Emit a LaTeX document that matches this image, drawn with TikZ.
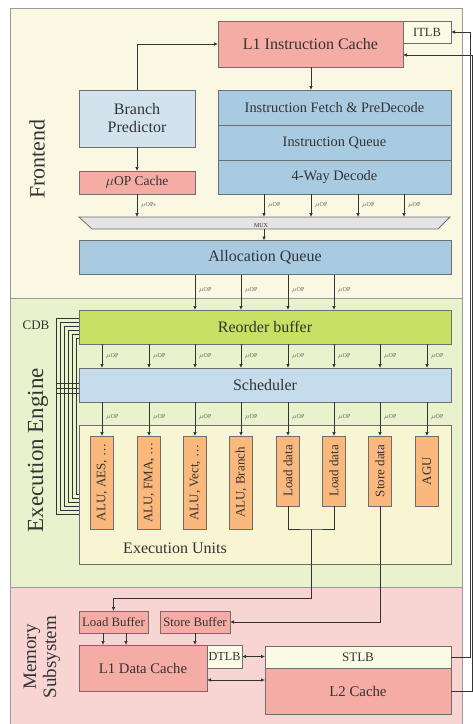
\documentclass[tikz,border=0pt]{standalone}
\usepackage{fontspec}
\usepackage{graphicx}
\setmainfont{Liberation Serif}
\usetikzlibrary{arrows.meta,calc}
\definecolor{frontbg}{HTML}{FAF8E2}
\definecolor{execbg}{HTML}{EAF2CD}
\definecolor{membg}{HTML}{F8D5D3}
\definecolor{eubg}{HTML}{F8F5D2}
\definecolor{salmon}{HTML}{F5ACA4}
\definecolor{bpblue}{HTML}{D3E3EE}
\definecolor{stackblue}{HTML}{A9CBE2}
\definecolor{schblue}{HTML}{C4DCEB}
\definecolor{robgreen}{HTML}{C8E064}
\definecolor{unitorange}{HTML}{FAB87C}
\definecolor{creambox}{HTML}{FCFBE6}
\definecolor{muxgray}{HTML}{E4E4E4}
\definecolor{bordcol}{HTML}{6E6E6E}
\definecolor{txtcol}{HTML}{333333}
\definecolor{sectcol}{HTML}{9A9A9A}
\newcommand{\fs}[1]{\fontsize{#1}{#1}\selectfont}
\begin{document}
\begin{tikzpicture}[x=1pt,y=-1pt,
  box/.style={draw=bordcol, line width=0.8pt, outer sep=0pt, inner sep=0pt, text=txtcol, align=center},
  unitbox/.style={box, fill=unitorange, minimum width=23pt, font=\fs{13}},
  arr/.style={draw=txtcol, line width=0.7pt, -{Latex[length=4pt,width=3.5pt]}},
  darr/.style={draw=txtcol, line width=0.7pt, {Latex[length=4pt,width=3.5pt]}-{Latex[length=4pt,width=3.5pt]}},
  ln/.style={draw=txtcol, line width=0.7pt},
  uoplab/.style={font=\fs{6}, text=txtcol!80, anchor=west, inner sep=0pt},
  sectlab/.style={text=txtcol, rotate=90, align=center},
]
\useasboundingbox (0,0) rectangle (473,724);
% section backgrounds
\fill[frontbg] (10,8) rectangle (462,298);
\fill[execbg] (10,298) rectangle (462,587);
\fill[membg] (10,587) rectangle (462,724);
\draw[sectcol, line width=0.8pt] (10,724) -- (10,8) -- (462,8) -- (462,724);
\draw[sectcol, line width=0.8pt] (10,298) -- (462,298);
\draw[sectcol, line width=0.8pt] (10,587) -- (462,587);

% section labels
\node[sectlab, font=\fs{22}] (lfront) at (37,159) {Frontend};
\node[sectlab, font=\fs{23}] (lexec) at (38,450) {Execution Engine};
\node[sectlab, font=\fs{19}] (lmem) at (42,657) {Memory\\[1pt]Subsystem};
\node[text=txtcol, font=\fs{13}] (lcdb) at (36,325) {CDB};

% ---------- Frontend ----------
\node[box, fill=salmon, minimum width=185pt, minimum height=46pt, font=\fs{16}] (l1i) at (310.5,44) {L1 Instruction Cache};
\node[box, fill=creambox, minimum width=48pt, minimum height=22pt, font=\fs{12.5}] (itlb) at (427,32) {ITLB};
\node[box, fill=bpblue, minimum width=116pt, minimum height=57pt, font=\fs{16}] (bp) at (137,118.5) {Branch\\[2pt]Predictor};
\node[box, fill=salmon, minimum width=116pt, minimum height=23pt, font=\fs{13.5}] (uop) at (137,182.5) {$\mu$OP Cache};
\node[box, fill=stackblue, minimum width=233pt, minimum height=35pt, font=\fs{14.4}] (ifd) at (334.5,107.5) {Instruction Fetch \& PreDecode};
\node[box, fill=stackblue, minimum width=233pt, minimum height=35pt, font=\fs{14.4}] (iq) at (334.5,142.5) {Instruction Queue};
\node[box, fill=stackblue, minimum width=233pt, minimum height=34pt, font=\fs{14.4}] (dec) at (334.5,177) {4-Way Decode};

% MUX
\node[minimum width=371pt, minimum height=12pt, inner sep=0pt, outer sep=0pt] (mux) at (264.5,223) {};
\draw[draw=bordcol, fill=muxgray, line width=0.8pt] (mux.north west) -- (mux.north east) -- ([xshift=-12pt]mux.south east) -- ([xshift=13pt]mux.south west) -- cycle;
\node[font=\fs{6}, text=txtcol, inner sep=0pt] (muxlab) at (261,225.5) {MUX};

\node[box, fill=stackblue, minimum width=372pt, minimum height=34pt, font=\fs{16}] (aq) at (265,257.5) {Allocation Queue};

% column coordinates
\coordinate (cd1) at (264,0);
\coordinate (cd2) at (311,0);
\coordinate (cd3) at (358,0);
\coordinate (cd4) at (404,0);

\draw[arr] (bp.north) |- (l1i.west);
\draw[arr] (l1i.south -| cd2) -- (ifd.north -| cd2);
\draw[arr] (bp.south) -- (uop.north);
\draw[arr] (uop.south) -- (uop.south |- mux.north);
\node[uoplab] at ([xshift=4pt]$(uop.south)!0.5!(uop.south |- mux.north)$) {$\mu$OPs};
\foreach \c in {cd1,cd2,cd3,cd4} {
  \draw[arr] (dec.south -| \c) -- (mux.north -| \c);
  \node[uoplab] at ([xshift=4pt]$(dec.south -| \c)!0.5!(mux.north -| \c)$) {$\mu$OP};
}
\draw[arr] (mux.south -| cd1) -- (aq.north -| cd1);

% ---------- Execution engine ----------
\node[box, fill=robgreen, minimum width=372pt, minimum height=34pt, font=\fs{16}] (rob) at (265,327) {Reorder buffer};
\node[box, fill=schblue, minimum width=372pt, minimum height=34pt, font=\fs{16}] (sch) at (265,385) {Scheduler};
\node[box, fill=eubg, minimum width=372pt, minimum height=139pt] (eu) at (265,494.5) {};
\node[text=txtcol, font=\fs{16}] (eulab) at (175,548) {Execution Units};

\node[unitbox, minimum height=93pt] (u1) at (102,482.5) {\rotatebox{90}{ALU, AES, \dots}};
\node[unitbox, minimum height=93pt] (u2) at (149,482.5) {\rotatebox{90}{ALU, FMA, \dots}};
\node[unitbox, minimum height=93pt] (u3) at (195,482.5) {\rotatebox{90}{ALU, Vect, \dots}};
\node[unitbox, minimum height=93pt] (u4) at (241,482.5) {\rotatebox{90}{ALU, Branch}};
\node[unitbox, minimum height=70pt] (u5) at (288,471) {\rotatebox{90}{Load data}};
\node[unitbox, minimum height=70pt] (u6) at (334,471) {\rotatebox{90}{Load data}};
\node[unitbox, minimum height=70pt] (u7) at (380,471) {\rotatebox{90}{Store data}};
\node[unitbox, minimum height=70pt] (u8) at (427,471) {\rotatebox{90}{AGU}};

\foreach \u in {u3,u4,u5,u6} {
  \draw[arr] (aq.south -| \u) -- (rob.north -| \u);
  \node[uoplab] at ([xshift=4pt,yshift=2pt]$(aq.south -| \u)!0.5!(rob.north -| \u)$) {$\mu$OP};
}
\foreach \u in {u1,u2,u3,u4,u5,u6,u7,u8} {
  \draw[arr] (rob.south -| \u) -- (sch.north -| \u);
  \node[uoplab] at ([xshift=4pt]$(rob.south -| \u)!0.5!(sch.north -| \u)$) {$\mu$OP};
  \draw[arr] (sch.south -| \u) -- (\u.north);
  \node[uoplab] at ([xshift=4pt,yshift=2pt]$(sch.south -| \u)!0.5!(\u.north)$) {$\mu$OP};
}

% CDB
\foreach \i in {0,...,5} {
  \draw[ln] ([yshift={-(8+4*\i)*1pt}]rob.north west) -- ++({-23+4*\i},0) |- ([yshift={-(89-4*\i)*1pt}]eu.north west);
}
\foreach \k in {15,20,25} {
  \draw[ln] ([yshift={-\k*1pt}]sch.north west) -- ++(-23,0);
}

% ---------- Memory subsystem ----------
\node[box, fill=salmon, minimum width=69pt, minimum height=22pt, font=\fs{12.8}] (lb) at (113.5,622) {Load Buffer};
\node[box, fill=salmon, minimum width=70pt, minimum height=22pt, font=\fs{12.8}] (sb) at (195,622) {Store Buffer};
\node[box, fill=salmon, minimum width=128pt, minimum height=46pt, font=\fs{14.7}] (l1d) at (143,668) {L1 Data Cache};
\node[box, fill=creambox, minimum width=35pt, minimum height=23pt, font=\fs{12.2}] (dtlb) at (224.5,656.5) {DTLB};
\node[box, fill=creambox, minimum width=186pt, minimum height=22pt, font=\fs{13}] (stlb) at (358,657) {STLB};
\node[box, fill=salmon, minimum width=186pt, minimum height=46pt, font=\fs{14.8}] (l2) at (358,691) {L2 Cache};

\coordinate (cl1) at (103,0);
\coordinate (cl2) at (126,0);
\draw[arr] (lb.south -| cl1) -- (l1d.north -| cl1);
\draw[arr] (lb.south -| cl2) -- (l1d.north -| cl2);
\draw[arr] (sb.south) -- (sb.south |- l1d.north);

\coordinate (ldj) at (311,529);
\coordinate (ldk) at (311,598);
\draw[ln] (u5.south) |- (ldj) -| (u6.south);
\draw[arr] (ldj) -- (ldk) -| (lb.north);
\draw[arr] (u7.south) |- (sb.east);

\coordinate (yl2) at (0,680);
\draw[darr] (dtlb.east) -- (stlb.west |- dtlb.east);
\draw[darr] (l1d.east |- yl2) -- (l2.west |- yl2);

% right-side returns
\coordinate (rA) at (470.5,0);
\coordinate (rB) at (472.6,55);
\draw[arr] (stlb.east) -- (stlb.east -| rA) -- (itlb.east -| rA) -- (itlb.east);
\draw[arr] (l2.east) -- (l2.east -| rB) -- (rB) -- (l1i.east |- rB);
\end{tikzpicture}
\end{document}
